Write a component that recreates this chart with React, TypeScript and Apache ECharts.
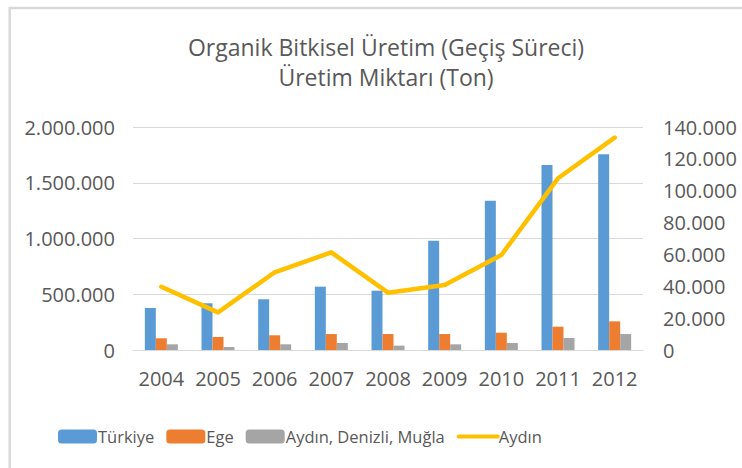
import React, { useEffect, useRef } from "react";
import * as echarts from "echarts";

const years = ["2004", "2005", "2006", "2007", "2008", "2009", "2010", "2011", "2012"];
const turkiye = [377000, 419000, 455000, 568000, 532000, 980000, 1339000, 1659000, 1755000];
const ege = [105000, 117000, 132000, 143000, 143000, 143000, 155000, 209000, 257000];
const adm = [51000, 27000, 51000, 63000, 39000, 51000, 63000, 108000, 143000];
const aydin = [39700, 23600, 48800, 61300, 36000, 40800, 59600, 107800, 133300];

const fmt = (v: number) => String(Math.round(v)).replace(/\B(?=(\d{3})+(?!\d))/g, ".");

const labelColor = "#595959";
const font = "Open Sans";

export default function App() {
  const ref = useRef<HTMLDivElement>(null);
  useEffect(() => {
    const chart = echarts.init(ref.current!, undefined, { renderer: "svg" });
    chart.setOption({
      animation: false,
      backgroundColor: "#ffffff",
      title: {
        text: "Organik Bitkisel Üretim (Geçiş Süreci)\nÜretim Miktarı (Ton)",
        left: 381,
        top: 27,
        textAlign: "center",
        textStyle: {
          fontFamily: font,
          fontSize: 23,
          fontWeight: "normal",
          color: labelColor,
          lineHeight: 30,
        },
      },
      graphic: [
        {
          type: "rect",
          shape: { x: 9.7, y: 8, width: 900, height: 600 },
          style: { fill: "none", stroke: "#d9d9d9", lineWidth: 2.5 },
          silent: true,
        },
      ],
      legend: {
        left: 53,
        top: 423,
        itemWidth: 39,
        itemHeight: 14,
        itemGap: 12,
        textStyle: {
          fontFamily: font,
          fontSize: 16.5,
          color: labelColor,
          padding: [0, 0, 0, -4],
        },
        data: [
          "Türkiye",
          "Ege",
          "Aydın, Denizli, Muğla",
          {
            name: "Aydın",
            itemStyle: { opacity: 0 },
            lineStyle: { width: 4, color: "#ffc000", cap: "round" },
          },
        ],
      },
      grid: { left: 133, right: 99, top: 127, bottom: 118, containLabel: false },
      xAxis: {
        type: "category",
        data: years,
        axisTick: { show: false },
        axisLine: { show: true, lineStyle: { color: "#d9d9d9", width: 1 } },
        axisLabel: {
          fontFamily: font,
          fontSize: 20,
          color: labelColor,
          margin: 18,
          interval: 0,
          hideOverlap: false,
        },
      },
      yAxis: [
        {
          type: "value",
          min: 0,
          max: 2000000,
          interval: 500000,
          axisLine: { show: false },
          axisTick: { show: false },
          splitLine: { lineStyle: { color: "#d9d9d9", width: 1 } },
          axisLabel: {
            fontFamily: font,
            fontSize: 20,
            color: labelColor,
            margin: 18,
            formatter: (v: number) => fmt(v),
          },
        },
        {
          type: "value",
          min: 0,
          max: 140000,
          interval: 20000,
          axisLine: { show: false },
          axisTick: { show: false },
          splitLine: { show: false },
          axisLabel: {
            fontFamily: font,
            fontSize: 20,
            color: labelColor,
            margin: 20,
            formatter: (v: number) => fmt(v),
          },
        },
      ],
      series: [
        {
          name: "Türkiye",
          type: "bar",
          data: turkiye,
          barWidth: 11,
          barGap: "0%",
          itemStyle: { color: "#5b9bd5" },
        },
        {
          name: "Ege",
          type: "bar",
          data: ege,
          barWidth: 11,
          barGap: "0%",
          itemStyle: { color: "#ed7d31" },
        },
        {
          name: "Aydın, Denizli, Muğla",
          type: "bar",
          data: adm,
          barWidth: 11,
          barGap: "0%",
          itemStyle: { color: "#a5a5a5" },
        },
        {
          name: "Aydın",
          type: "line",
          yAxisIndex: 1,
          data: aydin,
          symbol: "none",
          showSymbol: false,
          lineStyle: { color: "#ffc000", width: 4.5, cap: "round", join: "round" },
          itemStyle: { color: "#ffc000" },
        },
      ],
    });
    return () => chart.dispose();
  }, []);
  return (
    <div
      ref={ref}
      style={{ position: "fixed", left: 0, top: 0, width: 742, height: 468 }}
    />
  );
}
